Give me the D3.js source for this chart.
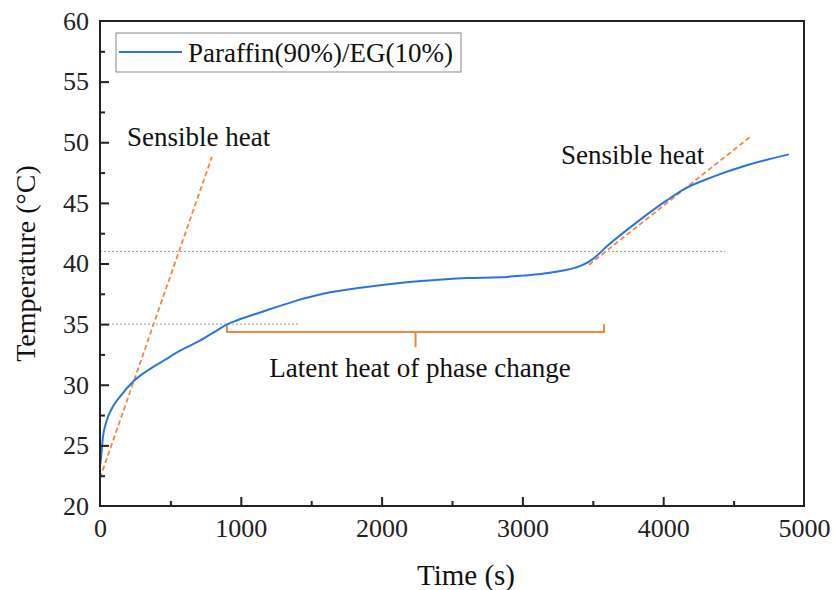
<!DOCTYPE html>
<html>
<head>
<meta charset="utf-8">
<script src="https://cdn.jsdelivr.net/npm/d3@7"></script>
<style>
  body { margin: 0; background: #fff; }
  svg { font-family: "Liberation Serif", "Times New Roman", serif; }
  .axis path, .axis line { stroke: #222; stroke-width: 2; }
  .axis text { font-size: 26px; fill: #222; font-family: "Liberation Serif", serif; }
</style>
</head>
<body>
<svg width="834" height="590"></svg>
<script>
// curve: [time s, temperature °C]
const timeS = [0, 5, 21, 45, 92, 151, 234, 341, 459, 578, 696, 814, 907, 980, 1148, 1385, 1585, 1850, 2131, 2400, 2604, 2841, 3000, 3196, 3433, 3504, 3598, 3835, 4025, 4143, 4356, 4593, 4893];
const tempC = [23.3, 23.7, 25.7, 26.95, 28.2, 29.15, 30.25, 31.2, 32.04, 32.87, 33.55, 34.37, 35.0, 35.34, 36.0, 36.9, 37.5, 38.0, 38.4, 38.65, 38.8, 38.86, 39.0, 39.24, 39.9, 40.4, 41.4, 43.6, 45.2, 46.1, 47.16, 48.1, 49.0];

const seriesName = "Paraffin(90%)/EG(10%)";

// tangent lines (dashed orange)
const tangents = [
  [[0, 22.3], [795, 48.8]],
  [[3473, 39.9], [4624, 50.5]]
];
// reference levels (dotted gray) : [temp, end time]
const refLevels = [[41, 4440], [35, 1413]];
// bracket: start, end, top, bottom, tip
const bracket = { x0: 902, x1: 3580, yTop: 35.0, yBar: 34.35, yTip: 33.1 };

const labels = [
  { text: "Sensible heat", t: 192, T: 49.7, anchor: "start" },
  { text: "Sensible heat", t: 3274, T: 48.2, anchor: "start" },
  { text: "Latent heat of phase change", t: 2273, T: 30.64, anchor: "middle" }
];

const xTicks = [0, 1000, 2000, 3000, 4000, 5000];
const yTicks = [20, 25, 30, 35, 40, 45, 50, 55, 60];

const svg = d3.select("svg");
const plotLeft = 100, plotRight = 804, plotTop = 21, plotBottom = 506;

const x = d3.scaleLinear().domain([0, 5000]).range([plotLeft, plotRight]);
const y = d3.scaleLinear().domain([20, 60]).range([plotBottom, plotTop]);

const orange = "#f0883e";
const blue = "#2a74e2";

// reference dotted lines
svg.selectAll(".ref")
  .data(refLevels)
  .enter()
  .append("line")
  .attr("x1", x(0))
  .attr("x2", d => x(d[1]))
  .attr("y1", d => y(d[0]))
  .attr("y2", d => y(d[0]))
  .attr("stroke", "#9a9a9a")
  .attr("stroke-width", 1)
  .attr("stroke-dasharray", "2,2");

// tangent lines
svg.selectAll(".tangent")
  .data(tangents)
  .enter()
  .append("line")
  .attr("x1", d => x(d[0][0]))
  .attr("y1", d => y(d[0][1]))
  .attr("x2", d => x(d[1][0]))
  .attr("y2", d => y(d[1][1]))
  .attr("stroke", orange)
  .attr("stroke-width", 1.8)
  .attr("stroke-dasharray", "5,3");

// bracket
const b = bracket;
svg.append("path")
  .attr("d", `M ${x(b.x0)} ${y(b.yTop)} L ${x(b.x0)} ${y(b.yBar)} L ${x(b.x1)} ${y(b.yBar)} L ${x(b.x1)} ${y(b.yTop)}
    M ${x((b.x0 + b.x1) / 2)} ${y(b.yBar)} L ${x((b.x0 + b.x1) / 2)} ${y(b.yTip)}`)
  .attr("fill", "none")
  .attr("stroke", orange)
  .attr("stroke-width", 2);

// curve
const data = timeS.map((t, i) => ({ t, T: tempC[i] }));
const line = d3.line()
  .x(d => x(d.t))
  .y(d => y(d.T))
  .curve(d3.curveMonotoneX);

svg.append("path")
  .datum(data)
  .attr("d", line)
  .attr("fill", "none")
  .attr("stroke", blue)
  .attr("stroke-width", 2);

// annotations
svg.selectAll(".label")
  .data(labels)
  .enter()
  .append("text")
  .attr("x", d => x(d.t))
  .attr("y", d => y(d.T))
  .attr("text-anchor", d => d.anchor)
  .attr("font-size", 27)
  .attr("fill", "#111")
  .text(d => d.text);

// axes
svg.append("g")
  .attr("class", "axis")
  .attr("transform", `translate(0,${plotBottom})`)
  .call(d3.axisBottom(x).tickValues(d3.range(500, 5000, 1000)).tickSize(-5).tickFormat(""))
  .select(".domain").remove();

svg.append("g")
  .attr("class", "axis")
  .attr("transform", `translate(${plotLeft},0)`)
  .call(d3.axisLeft(y).tickValues(d3.range(22.5, 60, 5)).tickSize(-5).tickFormat(""))
  .select(".domain").remove();

const xAxis = svg.append("g")
  .attr("class", "axis")
  .attr("transform", `translate(0,${plotBottom})`)
  .call(d3.axisBottom(x).tickValues(xTicks).tickSize(-9).tickPadding(13).tickFormat(d3.format("d")));
xAxis.select(".domain").remove();
xAxis.selectAll(".tick").filter(d => d === 0 || d === 5000).select("line").remove();

const yAxis = svg.append("g")
  .attr("class", "axis")
  .attr("transform", `translate(${plotLeft},0)`)
  .call(d3.axisLeft(y).tickValues(yTicks).tickSize(-9).tickPadding(11).tickFormat(d3.format("d")));
yAxis.select(".domain").remove();
yAxis.selectAll(".tick").filter(d => d === 20 || d === 60).select("line").remove();

// frame
svg.append("rect")
  .attr("x", plotLeft)
  .attr("y", plotTop)
  .attr("width", plotRight - plotLeft)
  .attr("height", plotBottom - plotTop)
  .attr("fill", "none")
  .attr("stroke", "#222")
  .attr("stroke-width", 2);

// axis titles
svg.append("text")
  .attr("x", 466)
  .attr("y", 585)
  .attr("text-anchor", "middle")
  .attr("font-size", 29)
  .attr("fill", "#111")
  .text("Time (s)");

svg.append("text")
  .attr("transform", `translate(35,${(plotTop + plotBottom) / 2}) rotate(-90)`)
  .attr("text-anchor", "middle")
  .attr("font-size", 28)
  .attr("fill", "#111")
  .text("Temperature (°C)");

// legend
const legend = svg.append("g");
legend.append("rect")
  .attr("x", 116)
  .attr("y", 33)
  .attr("width", 345)
  .attr("height", 39)
  .attr("fill", "#fff")
  .attr("stroke", "#888")
  .attr("stroke-width", 1);
legend.append("line")
  .attr("x1", 119)
  .attr("x2", 182)
  .attr("y1", 52)
  .attr("y2", 52)
  .attr("stroke", blue)
  .attr("stroke-width", 2);
legend.append("text")
  .attr("x", 188)
  .attr("y", 62)
  .attr("font-size", 27)
  .attr("fill", "#111")
  .text(seriesName);
</script>
</body>
</html>
